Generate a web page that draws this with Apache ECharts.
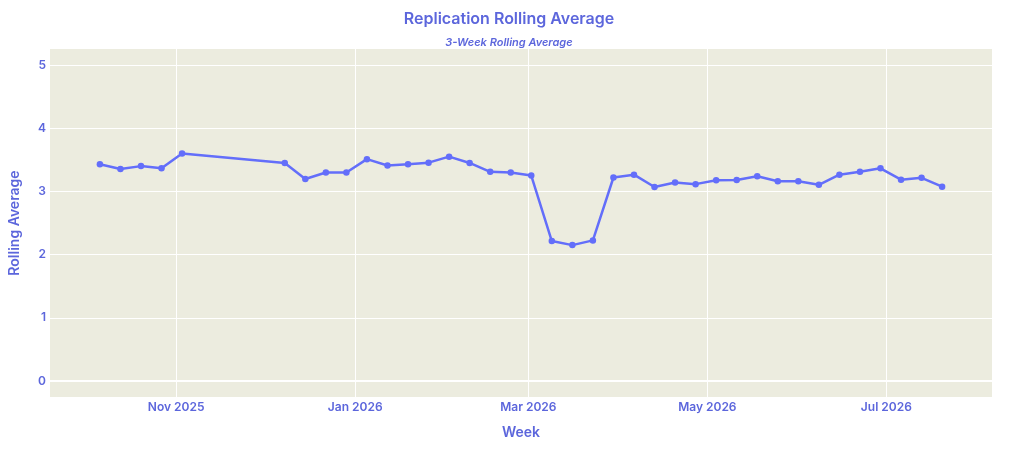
<!DOCTYPE html>
<html>
<head>
<meta charset="utf-8">
<title>Replication Rolling Average</title>
<script src="https://cdn.jsdelivr.net/npm/echarts@6/dist/echarts.min.js"></script>
<style>
  html, body { margin: 0; padding: 0; background: #fff; }
  #chart { width: 1018px; height: 450px; }
</style>
</head>
<body>
<div id="chart"></div>
<script>
// weekly points (Monday of each week)
var weeks = [
  '2025-10-06', '2025-10-13', '2025-10-20', '2025-10-27', '2025-11-03',
  '2025-12-08', '2025-12-15', '2025-12-22', '2025-12-29', '2026-01-05',
  '2026-01-12', '2026-01-19', '2026-01-26', '2026-02-02', '2026-02-09',
  '2026-02-16', '2026-02-23', '2026-03-02', '2026-03-09', '2026-03-16',
  '2026-03-23', '2026-03-30', '2026-04-06', '2026-04-13', '2026-04-20',
  '2026-04-27', '2026-05-04', '2026-05-11', '2026-05-18', '2026-05-25',
  '2026-06-01', '2026-06-08', '2026-06-15', '2026-06-22', '2026-06-29',
  '2026-07-06', '2026-07-13', '2026-07-20'
];
var rollingAvg = [
  3.43, 3.355, 3.40, 3.365, 3.60,
  3.45, 3.196, 3.30, 3.30, 3.51,
  3.41, 3.43, 3.455, 3.55, 3.45,
  3.31, 3.30, 3.25, 2.215, 2.15,
  2.225, 3.22, 3.265, 3.07, 3.14,
  3.115, 3.175, 3.18, 3.24, 3.16,
  3.16, 3.105, 3.265, 3.31, 3.365,
  3.185, 3.215, 3.075
];
var monthNames = ['Jan', 'Feb', 'Mar', 'Apr', 'May', 'Jun', 'Jul', 'Aug', 'Sep', 'Oct', 'Nov', 'Dec'];
var xRange = ['2025-09-19 00:00', '2026-08-06 00:00'];
var yRange = [-0.253, 5.253];

var textColor = '#5c66dc';
var lineColor = '#636efa';
var DAY = 24 * 3600 * 1000;

var points = [];
for (var i = 0; i < weeks.length; i++) {
  points.push([weeks[i], rollingAvg[i]]);
}

var chart = echarts.init(document.getElementById('chart'));
var option = {
  backgroundColor: '#ffffff',
  textStyle: { fontFamily: 'Inter' },
  title: [
    {
      text: 'Replication Rolling Average',
      left: 'center',
      top: 6,
      textStyle: { color: textColor, fontSize: 16, fontWeight: 600, fontFamily: 'Inter' }
    },
    {
      text: '3-Week Rolling Average',
      left: 'center',
      top: 32,
      textStyle: { color: textColor, fontSize: 11, fontWeight: 600, fontStyle: 'italic', fontFamily: 'Inter' }
    }
  ],
  grid: {
    left: 48,
    right: 26,
    top: 49,
    bottom: 53,
    show: true,
    backgroundColor: '#ececdf',
    borderWidth: 0
  },
  xAxis: {
    type: 'time',
    min: xRange[0],
    max: xRange[1],
    minInterval: 75 * DAY,
    maxInterval: 75 * DAY,
    name: 'Week',
    nameLocation: 'middle',
    nameGap: 29,
    nameTextStyle: { color: textColor, fontSize: 14, fontWeight: 600 },
    axisLine: { show: false },
    axisTick: { show: false },
    axisLabel: {
      color: textColor,
      fontSize: 12,
      fontWeight: 600,
      margin: 4,
      hideOverlap: false,
      showMinLabel: false,
      showMaxLabel: false,
      formatter: function (value) {
        var d = new Date(value);
        return monthNames[d.getMonth()] + ' ' + d.getFullYear();
      }
    },
    splitLine: {
      show: true,
      showMinLine: false,
      showMaxLine: false,
      lineStyle: { color: '#ffffff', width: 1 }
    }
  },
  yAxis: {
    type: 'value',
    min: yRange[0],
    max: yRange[1],
    minInterval: 1,
    maxInterval: 1,
    name: 'Rolling Average',
    nameLocation: 'middle',
    nameGap: 28,
    nameTextStyle: { color: textColor, fontSize: 14, fontWeight: 600 },
    axisLine: { show: false },
    axisTick: { show: false },
    axisLabel: {
      color: textColor,
      fontSize: 12,
      fontWeight: 600,
      margin: 4,
      showMinLabel: false,
      showMaxLabel: false,
      formatter: function (v) {
        return Math.abs(v - Math.round(v)) < 1e-6 ? String(Math.round(v)) : '';
      }
    },
    splitLine: {
      show: true,
      showMinLine: false,
      showMaxLine: false,
      lineStyle: { color: '#ffffff', width: 1 }
    }
  },
  series: [
    {
      name: 'Rolling Average',
      type: 'line',
      data: points,
      symbol: 'circle',
      symbolSize: 6.5,
      showAllSymbol: true,
      lineStyle: { color: lineColor, width: 2.5 },
      itemStyle: { color: lineColor },
      animation: false,
      markLine: {
        silent: true,
        symbol: 'none',
        label: { show: false },
        lineStyle: { color: '#ffffff', width: 2, type: 'solid' },
        data: [{ yAxis: 0 }]
      },
      z: 3
    }
  ]
};
chart.setOption(option);
</script>
</body>
</html>
